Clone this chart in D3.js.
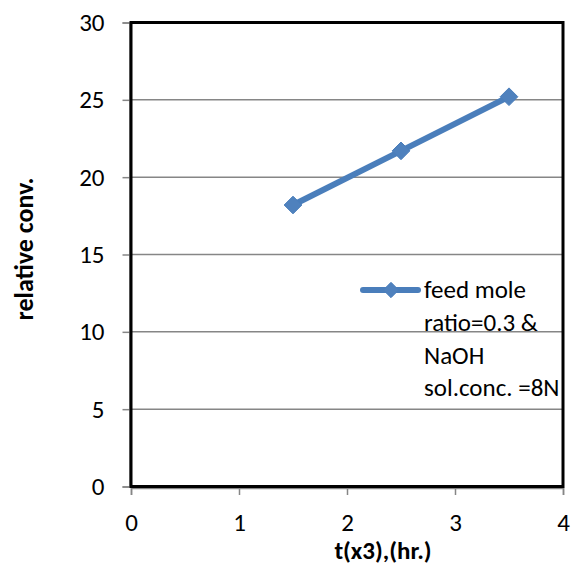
<!DOCTYPE html>
<html>
<head>
<meta charset="utf-8">
<script src="https://cdn.jsdelivr.net/npm/d3@7"></script>
<style>
  body { margin: 0; background: #fff; }
  text { font-family: Carlito, Lato, "Liberation Sans", sans-serif; }
</style>
</head>
<body>
<svg width="576" height="567"></svg>
<script>
// data
var times = [1.5, 2.5, 3.5];
var relConv = [18.2, 21.7, 25.2];
var xTicks = [0, 1, 2, 3, 4];
var yTicks = [0, 5, 10, 15, 20, 25, 30];
var legendLines = ["feed mole", "ratio=0.3 &", "NaOH", "sol.conc. =8N"];

var svg = d3.select("svg"),
    plotL = 131, plotR = 563, plotT = 22.5, plotB = 486.5,
    blue = "#4A7EBB", grey = "#868686";

var x = d3.scaleLinear().domain([0, 4]).range([plotL, plotR]);
var y = d3.scaleLinear().domain([0, 30]).range([plotB, plotT]);

// gridlines
svg.append("g").selectAll("line")
  .data(yTicks.filter(function(d) { return d > 0; }))
  .enter().append("line")
    .attr("x1", plotL).attr("x2", plotR)
    .attr("y1", function(d) { return y(d); })
    .attr("y2", function(d) { return y(d); })
    .attr("stroke", grey).attr("stroke-width", 1.5);

// axes
var yAxis = svg.append("g")
    .attr("transform", "translate(" + (plotL - 1.5) + ",0)")
    .call(d3.axisLeft(y).tickValues(yTicks).tickFormat(d3.format("d")).tickSize(7).tickPadding(18));
var xAxis = svg.append("g")
    .attr("transform", "translate(0," + (plotB + 1.5) + ")")
    .call(d3.axisBottom(x).tickValues(xTicks).tickFormat(d3.format("d")).tickSize(7).tickPadding(18));

[yAxis, xAxis].forEach(function(a) {
  a.selectAll(".domain").attr("stroke", grey).attr("stroke-width", 1.5);
  a.selectAll(".tick line").attr("stroke", grey).attr("stroke-width", 1.5);
  a.selectAll("text").attr("fill", "#000").style("font-size", "25px");
});
xAxis.selectAll("text").attr("dy", null).attr("y", 43);

// series
svg.append("path")
  .datum(times.map(function(t, i) { return [t, relConv[i]]; }))
  .attr("fill", "none")
  .attr("stroke", blue)
  .attr("stroke-width", 6)
  .attr("stroke-linejoin", "round")
  .attr("d", d3.line().x(function(d) { return x(d[0]); }).y(function(d) { return y(d[1]); }));

var diamond = d3.symbol().type(d3.symbolDiamond2).size(200);
svg.append("g").selectAll("path")
  .data(times)
  .enter().append("path")
    .attr("d", diamond)
    .attr("transform", function(d, i) { return "translate(" + x(d) + "," + y(relConv[i]) + ")"; })
    .attr("fill", "#4F81BD")
    .attr("stroke", blue);

// legend
svg.append("clipPath").attr("id", "plotclip")
  .append("rect").attr("x", 0).attr("y", 0).attr("width", plotR).attr("height", 567);

var legend = svg.append("g").attr("clip-path", "url(#plotclip)");
legend.append("line")
  .attr("x1", 363).attr("x2", 418).attr("y1", 290).attr("y2", 290)
  .attr("stroke", blue).attr("stroke-width", 6).attr("stroke-linecap", "round");
legend.append("path")
  .attr("d", d3.symbol().type(d3.symbolDiamond2).size(150))
  .attr("transform", "translate(391,290)")
  .attr("fill", "#4F81BD").attr("stroke", blue);
legend.selectAll("text")
  .data(legendLines)
  .enter().append("text")
    .attr("x", 424)
    .attr("y", function(d, i) { return 298 + i * 32.8; })
    .style("font-size", "25px")
    .text(function(d) { return d; });

// plot area border
svg.append("rect")
  .attr("x", plotL).attr("y", plotT)
  .attr("width", plotR - plotL).attr("height", plotB - plotT)
  .attr("fill", "none").attr("stroke", "#000").attr("stroke-width", 3);

// axis titles
svg.append("text")
  .attr("x", 383).attr("y", 559)
  .attr("text-anchor", "middle")
  .style("font-size", "25px").style("font-weight", "bold")
  .text("t(x3),(hr.)");

svg.append("text")
  .attr("transform", "translate(33,249) rotate(-90)")
  .attr("text-anchor", "middle")
  .style("font-size", "26px").style("font-weight", "bold")
  .text("relative conv.");
</script>
</body>
</html>
